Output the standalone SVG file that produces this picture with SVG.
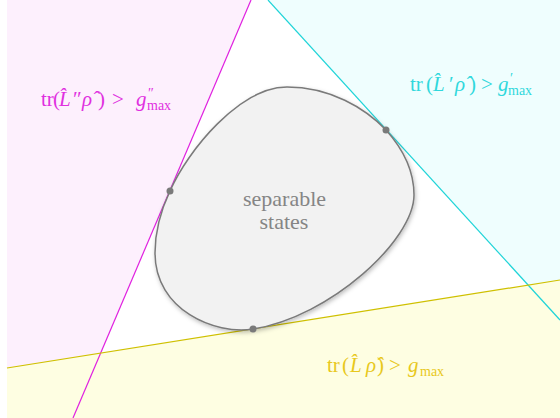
<svg xmlns="http://www.w3.org/2000/svg" width="560" height="418" viewBox="0 0 560 418">
<defs>
<style>
.m{font-family:'Liberation Serif','DejaVu Serif',serif;font-size:21px}
.i{font-style:italic}
.s{font-size:14px}
</style>
<filter id="sh" x="-10%" y="-10%" width="130%" height="130%">
<feDropShadow dx="1" dy="2" stdDeviation="2" flood-color="#000" flood-opacity="0.25"/>
</filter>
</defs>
<rect width="560" height="418" fill="#ffffff"/>
<g id="regions">
<polygon points="7,0 251,0 73,418 7,418" fill="#fdf0fd"/>
<polygon points="268,0 560,0 560,320" fill="#effefe"/>
<polygon points="7,368 560,280 560,418 7,418" fill="#fefee2"/>
</g>
<g id="connectors" fill="none" stroke-width="1.2">
<line x1="251" y1="0" x2="73" y2="418" stroke="#e020e0"/>
<line x1="268" y1="0" x2="560" y2="320" stroke="#20d4d8"/>
<line x1="7" y1="368" x2="560" y2="280" stroke="#cfc000"/>
</g>
<g id="separable">
<path d="M287,87 C330,87 365,108 386,130 C404,150 414,172 414,195 C414,240 330,317 253,329 C215,335 155,310 155,253 C155,230 161,210 170,191 C188,150 240,87 287,87 Z" fill="#f2f2f2" stroke="#7a7a7a" stroke-width="1.5" filter="url(#sh)"/>
<text x="284.5" y="206" font-family="Liberation Serif, serif" font-size="22" fill="#858585" text-anchor="middle">separable</text>
<text x="284" y="229" font-family="Liberation Serif, serif" font-size="22" fill="#858585" text-anchor="middle">states</text>
</g>
<g id="points" fill="#7a7a7a">
<circle cx="170" cy="191" r="3.5"/>
<circle cx="386" cy="130" r="3.5"/>
<circle cx="253" cy="329" r="3.5"/>
</g>
<g id="label-magenta" class="m" fill="#e030e0">
<text><tspan x="41" y="106">tr</tspan><tspan x="53" y="106">(</tspan><tspan x="59" y="106" class="i">L&#x302;</tspan><tspan x="73" y="106">″</tspan><tspan x="82" y="106" class="i">ρ&#x302;</tspan><tspan x="98" y="106">)</tspan><tspan x="112" y="106">&gt;</tspan><tspan x="136" y="106" class="i">g</tspan><tspan x="148" y="98" class="s">″</tspan><tspan x="147" y="110" class="s">max</tspan></text>
</g>
<g id="label-cyan" class="m" fill="#30d8dc">
<text><tspan x="410" y="91">tr</tspan><tspan x="426" y="91">(</tspan><tspan x="433" y="91" class="i">L&#x302;</tspan><tspan x="449" y="91">′</tspan><tspan x="455" y="91" class="i">ρ&#x302;</tspan><tspan x="469" y="91">)</tspan><tspan x="481" y="91">&gt;</tspan><tspan x="498" y="91" class="i">g</tspan><tspan x="510" y="83" class="s">′</tspan><tspan x="508" y="95" class="s">max</tspan></text>
</g>
<g id="label-yellow" class="m" fill="#e8c81c">
<text><tspan x="327" y="372">tr</tspan><tspan x="342" y="372">(</tspan><tspan x="350" y="372" class="i">L&#x302;</tspan><tspan x="366" y="372" class="i">ρ&#x302;</tspan><tspan x="377" y="372">)</tspan><tspan x="389" y="372">&gt;</tspan><tspan x="408" y="372" class="i">g</tspan><tspan x="420" y="376" class="s">max</tspan></text>
</g>
</svg>
